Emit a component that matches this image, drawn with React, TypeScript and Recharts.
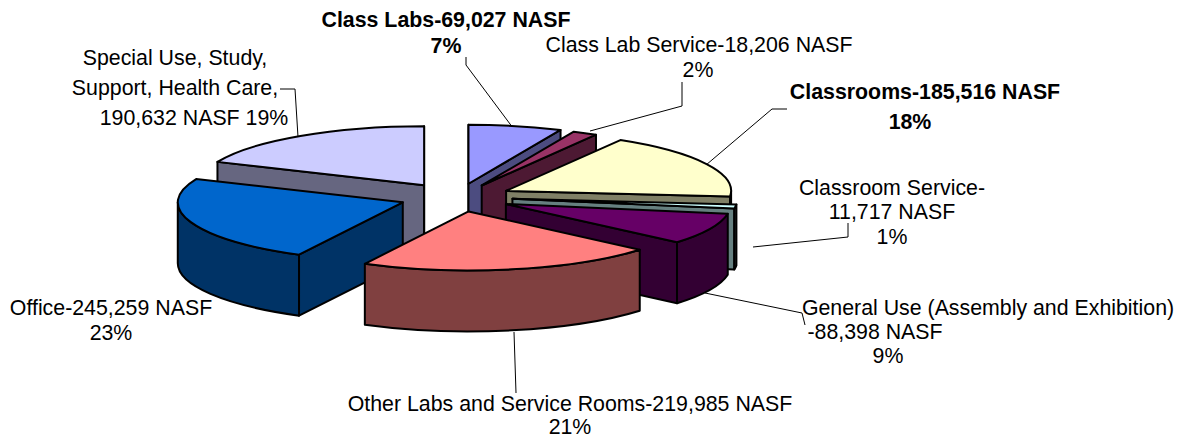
import React from "react";
import { PieChart, Pie } from "recharts";

const categories = ["Class Labs", "Class Lab Service", "Classrooms", "Classroom Service", "General Use", "Other Labs", "Office", "Special Use"];
const nasf = [69027, 18206, 185516, 11717, 88398, 219985, 245259, 190632];

// Presentation only
const topColors = ["#9999FF", "#993366", "#FFFFCC", "#CCFFFF", "#660066", "#FF8080", "#0066CC", "#CCCCFF"];
const sideColors = ["#4C4C80", "#4D1933", "#808066", "#668080", "#330033", "#804040", "#003366", "#666680"];
const explodeX = [0.18, 0.21, 0.23, 0.235, 0.225, 0.2, 0.27, 0.29];
const explodeY = [0.23, 0.22, 0.23, 0.235, 0.28, 0.25, 0.27, 0.24];
const drawLayers = [[0, 1, 2, 3, 4, 7], [6], [5]];

const SQUASH = 0.262;
const DEPTH = 61;
const rad = (d: number) => (d * Math.PI) / 180;

function makeSlice(layer: number[]) {
  return function Slice(props: any) {
    const { cx, cy, outerRadius, startAngle, endAngle, index } = props;
    if (!layer.includes(index)) return <g />;
    const a = 90 - startAngle;
    const b = 90 - endAngle;
    const rx = outerRadius;
    const ry = outerRadius * SQUASH;
    const mid = (a + b) / 2;
    const ax = cx + explodeX[index] * rx * Math.sin(rad(mid));
    const ay = cy - explodeY[index] * ry * Math.cos(rad(mid));
    const pt = (t: number): [number, number] => [ax + rx * Math.sin(rad(t)), ay - ry * Math.cos(rad(t))];
    const [x1, y1] = pt(a);
    const [x2, y2] = pt(b);
    const stroke = { stroke: "#000", strokeWidth: 2, strokeLinejoin: "round" as const };
    const side = sideColors[index];
    const wall = (px: number, py: number) =>
      `M${ax},${ay}L${px},${py}L${px},${py + DEPTH}L${ax},${ay + DEPTH}Z`;
    const wa = Math.max(a, 90);
    const wb = Math.min(b, 270);
    const [wx1, wy1] = pt(wa);
    const [wx2, wy2] = pt(wb);
    return (
      <g>
        {Math.sin(rad(a)) < 0.001 && <path d={wall(x1, y1)} fill={side} {...stroke} />}
        {Math.sin(rad(b)) > -0.001 && <path d={wall(x2, y2)} fill={side} {...stroke} />}
        {wb > wa && (
          <path
            d={`M${wx1},${wy1}A${rx},${ry} 0 0 1 ${wx2},${wy2}L${wx2},${wy2 + DEPTH}A${rx},${ry} 0 0 0 ${wx1},${wy1 + DEPTH}Z`}
            fill={side}
            {...stroke}
          />
        )}
        <path
          d={`M${ax},${ay}L${x1},${y1}A${rx},${ry} 0 ${b - a > 180 ? 1 : 0} 1 ${x2},${y2}Z`}
          fill={topColors[index]}
          {...stroke}
        />
      </g>
    );
  };
}

const labelBlocks: { bold?: boolean; lines: [string, number, number][] }[] = [
  { bold: true, lines: [["Class Labs-69,027 NASF", 446, 27], ["7%", 446, 53]] },
  { lines: [["Class Lab Service-18,206 NASF", 699, 52], ["2%", 698, 77]] },
  { bold: true, lines: [["Classrooms-185,516 NASF", 925, 99], ["18%", 910, 129]] },
  { lines: [["Classroom Service-", 892, 195], ["11,717 NASF", 892, 219], ["1%", 892, 244]] },
  { lines: [["General Use (Assembly and Exhibition)", 988, 315], ["-88,398 NASF", 875, 339], ["9%", 888, 363]] },
  { lines: [["Other Labs and Service Rooms-219,985 NASF", 570, 411], ["21%", 570, 434]] },
  { lines: [["Office-245,259 NASF", 111, 315], ["23%", 111, 340]] },
  { lines: [["Special Use, Study,", 175, 65], ["Support, Health Care,", 175, 95], ["190,632 NASF 19%", 194, 125]] },
];

const leaders = [
  "M466,57L466,65L513,128",
  "M682,82L682,106L590,131",
  "M787,109L772,109L706,165",
  "M848,223L848,237L753,247",
  "M705,293L802,313L805,325",
  "M514,332L516,393",
  "M280,89L295,89L298,137",
];

export default function App() {
  const data = categories.map((name, i) => ({ name, value: nasf[i] }));
  return (
    <div style={{ position: "absolute", left: 0, top: 0, width: 1185, height: 439, background: "#fff" }}>
      <PieChart width={1185} height={439} margin={{ top: 0, right: 0, bottom: 0, left: 0 }}>
        {drawLayers.map((layer, i) => (
          <Pie
            key={i}
            data={data}
            dataKey="value"
            nameKey="name"
            cx={460}
            cy={197}
            innerRadius={0}
            outerRadius={225}
            startAngle={90}
            endAngle={-270}
            paddingAngle={0}
            isAnimationActive={false}
            shape={makeSlice(layer)}
            legendType="none"
          />
        ))}
        <g>
          {leaders.map((d, i) => (
            <path key={i} d={d} fill="none" stroke="#000" strokeWidth={1} />
          ))}
          {labelBlocks.map((b, i) =>
            b.lines.map(([t, x, y], j) => (
              <text
                key={`${i}-${j}`}
                x={x}
                y={y}
                textAnchor="middle"
                fontFamily="'Liberation Sans', Arial, sans-serif"
                fontSize={21.33}
                fontWeight={b.bold ? 700 : 400}
                fill="#000"
              >
                {t}
              </text>
            ))
          )}
        </g>
      </PieChart>
    </div>
  );
}
